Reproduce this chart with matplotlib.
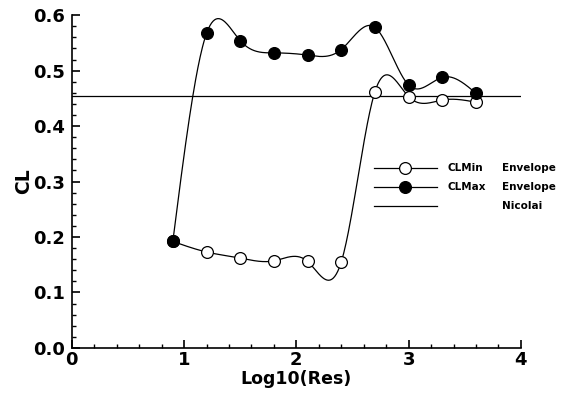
import numpy as np
import matplotlib
matplotlib.use('Agg')
import matplotlib.pyplot as plt
from matplotlib.ticker import MultipleLocator, FormatStrFormatter

plt.rcParams['font.family'] = ['DejaVu Sans']

# values
log_res = [0.9, 1.2, 1.5, 1.8, 2.1, 2.4, 2.7, 3.0, 3.3, 3.6]
cl_min = [0.192, 0.173, 0.162, 0.157, 0.156, 0.155, 0.462, 0.453, 0.447, 0.443]
cl_max = [0.192, 0.567, 0.554, 0.532, 0.528, 0.538, 0.578, 0.474, 0.488, 0.459]
nicolai = 0.455


def natural_spline(x, y, n=400):
    # natural cubic spline drawn through the points (like the original smooth curves)
    x = np.asarray(x, float)
    y = np.asarray(y, float)
    k = len(x)
    h = np.diff(x)
    A = np.zeros((k, k))
    b = np.zeros(k)
    A[0, 0] = A[-1, -1] = 1.0
    for i in range(1, k - 1):
        A[i, i - 1] = h[i - 1]
        A[i, i] = 2 * (h[i - 1] + h[i])
        A[i, i + 1] = h[i]
        b[i] = 6 * ((y[i + 1] - y[i]) / h[i] - (y[i] - y[i - 1]) / h[i - 1])
    m = np.linalg.solve(A, b)
    xs = np.linspace(x[0], x[-1], n)
    idx = np.clip(np.searchsorted(x, xs) - 1, 0, k - 2)
    x0, x1 = x[idx], x[idx + 1]
    hh = x1 - x0
    t0 = x1 - xs
    t1 = xs - x0
    ys = (m[idx] * t0 ** 3 / (6 * hh) + m[idx + 1] * t1 ** 3 / (6 * hh)
          + (y[idx] / hh - m[idx] * hh / 6) * t0
          + (y[idx + 1] / hh - m[idx + 1] * hh / 6) * t1)
    return xs, ys


fig = plt.figure(figsize=(5.65, 3.99), dpi=100)
ax = fig.add_axes([0.127, 0.128, 0.795, 0.834])

ax.axhline(nicolai, color='black', linewidth=0.9)

xs, ys = natural_spline(log_res, cl_min)
ax.plot(xs, ys, color='black', linewidth=0.9)
xs, ys = natural_spline(log_res, cl_max)
ax.plot(xs, ys, color='black', linewidth=0.9)

ax.plot(log_res, cl_min, 'o', color='black', markerfacecolor='white',
        markersize=8.5, markeredgewidth=0.9)
ax.plot(log_res, cl_max, 'o', color='black', markerfacecolor='black',
        markersize=8.5, markeredgewidth=0.9)

ax.set_xlim(0, 4)
ax.set_ylim(0, 0.6)
ax.xaxis.set_major_locator(MultipleLocator(1))
ax.xaxis.set_minor_locator(MultipleLocator(0.2))
ax.yaxis.set_major_locator(MultipleLocator(0.1))
ax.yaxis.set_minor_locator(MultipleLocator(0.02))
ax.yaxis.set_major_formatter(FormatStrFormatter('%.1f'))

ax.spines['top'].set_visible(False)
ax.spines['right'].set_visible(False)
ax.spines['left'].set_linewidth(1.2)
ax.spines['bottom'].set_linewidth(1.2)
ax.tick_params(direction='in', which='major', length=6, width=1.2)
ax.tick_params(direction='in', which='minor', length=3, width=1)
ax.tick_params(axis='x', pad=2)
ax.tick_params(axis='y', pad=5)
for lab in ax.get_xticklabels() + ax.get_yticklabels():
    lab.set_fontsize(13)
    lab.set_fontweight('bold')

ax.set_xlabel('Log10(Res)', fontsize=12.5, fontweight='bold', labelpad=1)
ax.set_ylabel('CL', fontsize=13.5, fontweight='bold', labelpad=0)

# legend drawn by hand to match the column layout of the original
rows = [(0.541, 'white', 'CLMin', 'Envelope'),
        (0.483, 'black', 'CLMax', 'Envelope'),
        (0.426, None, '', 'Nicolai')]
for y, face, name, kind in rows:
    ax.plot([0.673, 0.813], [y, y], color='black', linewidth=0.9,
            transform=ax.transAxes, clip_on=False)
    if face is not None:
        ax.plot([0.742], [y], 'o', color='black', markerfacecolor=face,
                markersize=8.5, markeredgewidth=0.9,
                transform=ax.transAxes, clip_on=False)
    ax.text(0.837, y, name, transform=ax.transAxes, fontsize=7.5,
            fontweight='bold', va='center', ha='left')
    ax.text(0.958, y, kind, transform=ax.transAxes, fontsize=7.5,
            fontweight='bold', va='center', ha='left')

plt.savefig('out.png', dpi=100)
